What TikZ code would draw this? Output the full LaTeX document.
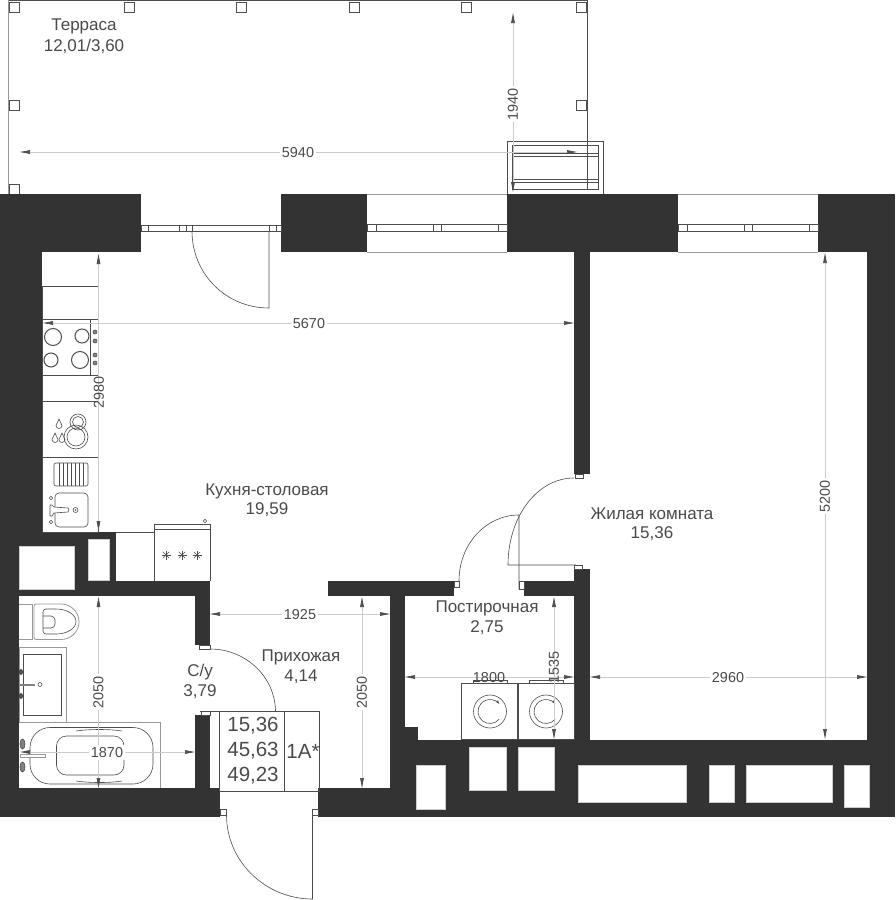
\documentclass[tikz,border=0pt]{standalone}
\usepackage{fontspec}
\setmainfont{Liberation Sans}
\usetikzlibrary{arrows.meta}
\definecolor{wallgray}{HTML}{333333}
\definecolor{txtgray}{HTML}{4A4A4A}
\definecolor{linegray}{HTML}{4D4D4D}
\definecolor{dimgray}{HTML}{CCCCCC}
\tikzset{
  wall/.style={fill=wallgray, draw=none},
  hole/.style={fill=white, draw=gray!40, line width=0.3pt},
  thinline/.style={draw=linegray, line width=0.6pt},
  greyline/.style={draw=gray!80, line width=0.8pt},
  dimline/.style={draw=dimgray, line width=0.7pt,
    {Stealth[length=10pt,width=3.6pt,inset=0pt,color=linegray]}-{Stealth[length=10pt,width=3.6pt,inset=0pt,color=linegray]}},
  dimtext/.style={text=txtgray, font=\fontsize{14.4pt}{16pt}\selectfont, fill=white, inner sep=2pt},
  dimbare/.style={text=txtgray, font=\fontsize{14.4pt}{16pt}\selectfont, inner sep=0pt},
  roomtext/.style={text=txtgray, font=\fontsize{17pt}{19pt}\selectfont, inner sep=0pt},
  plaquetext/.style={text=txtgray, font=\fontsize{20.5pt}{22pt}\selectfont, inner sep=0pt},
}
\begin{document}
\begin{tikzpicture}[x=1pt, y=-1pt]
\useasboundingbox (0,0) rectangle (895,900);
\fill[white] (0,0) rectangle (895,900);

% Terrace
\draw[thinline] (8,194) -- (8,0.5) -- (587,0.5) -- (587,189);
\draw[greyline] (8,0) -- (8,194);
\foreach \x/\y in {14/7,129/7,241/7,354/7,466/7,581/7,14/105,581/105,14/189}
    \draw[thinline, fill=white] (\x-5,\y-5) rectangle (\x+5,\y+5);

% Walls
\foreach \xa/\ya/\xb/\yb in {0/194/141/252, 281/194/367/252, 507/194/678/252, 818/194/895/252,
    0/194/42/532, 0/532/116/581, 0/581/210/596, 0/596/19/817, 0/788/220/817,
    195/596/210/645, 195/715/210/788, 318/788/895/817,
    390/596/405/788, 328/581/454/596, 524/581/590/596, 574/252/590/474, 574/569/590/740,
    390/740/895/788, 405/727/418/740, 867/252/895/817}
    \fill[wall] (\xa,\ya) rectangle (\xb,\yb);

% Shafts
\foreach \xa/\ya/\xb/\yb in {19/546/74/589, 88/539/109/580, 416/765/445/809, 469/747/506/790,
    518/747/554/790, 578/765/686/802, 709/765/734/802, 746/765/832/802, 844/765/869/807}
    \draw[hole] (\xa,\ya) rectangle (\xb,\yb);

% Door jambs
\foreach \xa/\ya/\xb/\yb in {199/645/210/649, 201/711/210/715, 575/474/583/478, 574/565/582/569,
    454/581/459/587, 519/581/524/589, 220/809/226/815, 312/809/318/815}
    \draw[thinline, fill=white] (\xa,\ya) rectangle (\xb,\yb);

% Windows
\draw[thinline] (141,225) rectangle (281,231);
\foreach \x in {148,179,186,192,269,276}
    \draw[thinline] (\x,225) -- (\x,231);
\foreach \xa/\xb in {367/507, 678/818} {
    \draw[greyline] (\xa,194) -- (\xb,194) (\xa,252) -- (\xb,252);
    \draw[thinline] (\xa,224) rectangle (\xb,231);
    \foreach \dx in {9,66,74,131}
        \draw[thinline] (\xa+\dx,224) -- (\xa+\dx,231);
}

% Terrace unit
\draw[thinline] (507,194) -- (507,141) -- (603,141) -- (603,194);
\draw[thinline] (512,145) rectangle (598,189);
\draw[thinline] (512,153) rectangle (598,156.5);
\draw[thinline] (512,179) rectangle (598,182.5);

% Doors
\draw[thinline] (269,231) -- (269,308) .. controls (226,308) and (192,274) .. (192,231);
\draw[thinline] (519,589) -- (519,515) .. controls (486,515) and (459,544) .. (459,581);
\draw[thinline] (576,565) -- (508,565) .. controls (508,517) and (537,478) .. (574,478);
\draw[thinline] (210,649) .. controls (246,649) and (275,677) .. (275.5,711);
\draw[thinline] (312.5,815) -- (312.5,899) .. controls (265,899) and (226.5,861) .. (226.5,815);

% Plaque
\draw[thinline] (200,711) -- (319.5,711) -- (319.5,791) -- (219.5,791) -- (219.5,711);
\draw[thinline] (284.5,711) -- (284.5,791);

% Kitchen
\draw[thinline] (42,286) rectangle (98,319);
\draw[thinline] (42,319) rectangle (98,375);
\draw[thinline] (90.5,319) -- (90.5,375);
\draw[thinline] (42,375) rectangle (98,401);
\draw[thinline] (42,401) rectangle (98,457);
\draw[thinline] (42,457) rectangle (98,532);
\foreach \x/\y/\r in {53/337/8.5, 82/336/7, 51/360/7, 80/360/8.5}
    \draw[line width=1pt, draw=linegray] (\x,\y) circle (\r);
\foreach \y in {332,341,355,363}
    \draw[thinline, fill=gray] (95,\y) circle (2);
\draw[thinline] (76,437) circle (12) (76,437) circle (9) (78,422) circle (8) (78,422) circle (5.5);
\foreach \x/\y in {59/424,55/438,62/438}
    \draw[thinline] (\x,\y-5) -- (\x+3,\y+1.5) arc (0:180:3) -- cycle;
\draw[thinline, rounded corners=2pt] (54,463) rectangle (88,486);
\foreach \x in {59,63,67,71,75,79,83}
    \draw[thinline] (\x,463) -- (\x,486);
\draw[thinline, rounded corners=4pt] (55,493) rectangle (88,527);
\draw[thinline] (51,498) circle (1.8) (51,522) circle (1.8) (75.5,510) circle (2.5);
\fill[linegray] (75.5,510) circle (0.8);
\draw[thinline, fill=white] (50,505) -- (52,505) -- (54,507) -- (68,508) -- (69,510) -- (68,512) -- (54,513) -- (52,516) -- (50,516) -- cycle;
\draw[thinline] (116,532) -- (154,532);
\draw[thinline] (154,581) -- (154,524) -- (210,524) -- (210,581);
\draw[thinline] (154,529) -- (210,529);
\draw[thinline] (205,521) circle (1.8);
\foreach \x in {166,182,197}
    \foreach \a in {0,45,90,135}
        \draw[thinline] (\x,555) ++(\a:4.5) -- ++(\a+180:9);

% Bathroom
\draw[greyline] (19,604) -- (32,604) (19,639.5) -- (32,639.5) (32,604) -- (32,639.5);
\draw[greyline, rounded corners=2pt] (48,639.5) -- (34,639.5) -- (34,604) -- (48,604);
\draw[greyline] (48,604) -- (61,604) arc (-90:90:18 and 17.75) -- (48,639.5);
\draw[thinline, rounded corners=3pt] (56,609) -- (43,609) -- (43,634) -- (56,634);
\draw[thinline] (56,609) arc (-90:90:20 and 12.5);
\draw[thinline, rounded corners=4pt] (43,616) -- (55,616) -- (55,628) -- (43,628);
\draw[greyline] (19,647) rectangle (66,722.5);
\draw[thinline] (23,654.5) rectangle (61,715);
\draw[line width=1.6pt, draw=gray] (20,685) -- (35,685);
\draw[thinline] (40,684.5) circle (2);
\foreach \y in {672,696}
    \fill[linegray] (21,\y) ellipse (2 and 3);
\draw[greyline] (19,722.5) -- (160,722.5) -- (160,788);
\draw[thinline, rounded corners=20pt] (30,727.5) rectangle (153,784);
\draw[thinline, rounded corners=10pt] (56.5,736) rectangle (124,775);
\draw[greyline, fill=white] (20,754) rectangle (45,757);
\foreach \y in {744,767}
    \draw[thinline, fill=gray] (22.5,\y) ellipse (2.5 and 5);
\draw[thinline] (76,731) .. controls (90,729) and (110,729) .. (122,731);
\draw[thinline] (76,781) .. controls (90,783) and (110,783) .. (122,781);

% Laundry
\foreach \xa/\cx in {461.5/490, 517.5/546} {
    \draw[thinline] (\xa,683) rectangle (\xa+56.5,739.5);
    \draw[thinline] (\cx,711.5) circle (16.5);
    \draw[thinline, -{Stealth[length=4pt,width=3pt]}] (\cx,711.5) ++(40:12) arc (40:320:12);
    \draw[thinline] (\xa+11.5,683) -- (\xa+11.5,680) -- (\xa+45.5,680) -- (\xa+45.5,683);
}

% Dimensions
\draw[dimline] (20,152) -- (577,152);
\draw[dimline] (513,13) -- (513,192);
\draw[dimline] (43,323) -- (574,323);
\draw[dimline] (98.5,254) -- (98.5,531);
\draw[dimline] (98.5,597) -- (98.5,788);
\draw[dimline] (20,752) -- (195,752);
\draw[dimline] (210,614) -- (390,614);
\draw[dimline] (362,597) -- (362,788);
\draw[dimline] (405,677) -- (574,677);
\draw[dimline] (554,597) -- (554,739);
\draw[dimline] (590,677) -- (867,677);
\draw[dimline] (825,253) -- (825,739);

\node[dimtext] (dimTerA) at (298,153) {5940};
\node[dimtext, rotate=90] (dimTerB) at (513,104) {1940};
\node[dimtext] (dimKitA) at (309,323.5) {5670};
\node[dimbare, rotate=90] (dimKitB) at (99,392) {2980};
\node[dimtext, rotate=90] (dimBathA) at (98.5,692) {2050};
\node[dimtext] (dimBathB) at (107,752.5) {1870};
\node[dimtext] (dimHallA) at (300,614.5) {1925};
\node[dimtext, rotate=90] (dimHallB) at (362,692) {2050};
\node[dimbare] (dimLauA) at (489,677.5) {1800};
\node[dimbare, rotate=90] (dimLauB) at (554,667.5) {1535};
\node[dimtext] (dimLivA) at (728,677.5) {2960};
\node[dimtext, rotate=90] (dimLivB) at (825,496) {5200};

% Rooms
\node[roomtext] (terName) at (84,26) {Терраса};
\node[roomtext] (terArea) at (84,46) {12,01/3,60};
\node[roomtext] (kitName) at (267,491) {Кухня-столовая};
\node[roomtext] (kitArea) at (267,510) {19,59};
\node[roomtext] (livName) at (652,514) {Жилая комната};
\node[roomtext] (livArea) at (652,534) {15,36};
\node[roomtext] (lauName) at (487,608) {Постирочная};
\node[roomtext] (lauArea) at (487,628) {2,75};
\node[roomtext] (halName) at (301,657) {Прихожая};
\node[roomtext] (halArea) at (301,677) {4,14};
\node[roomtext] (batName) at (200,672) {С/у};
\node[roomtext] (batArea) at (200,692) {3,79};

\node[plaquetext] (plqA) at (253,726) {15,36};
\node[plaquetext] (plqB) at (253,751) {45,63};
\node[plaquetext] (plqC) at (253,776) {49,23};
\node[plaquetext] (plqD) at (303,751) {1А*};

\end{tikzpicture}
\end{document}
